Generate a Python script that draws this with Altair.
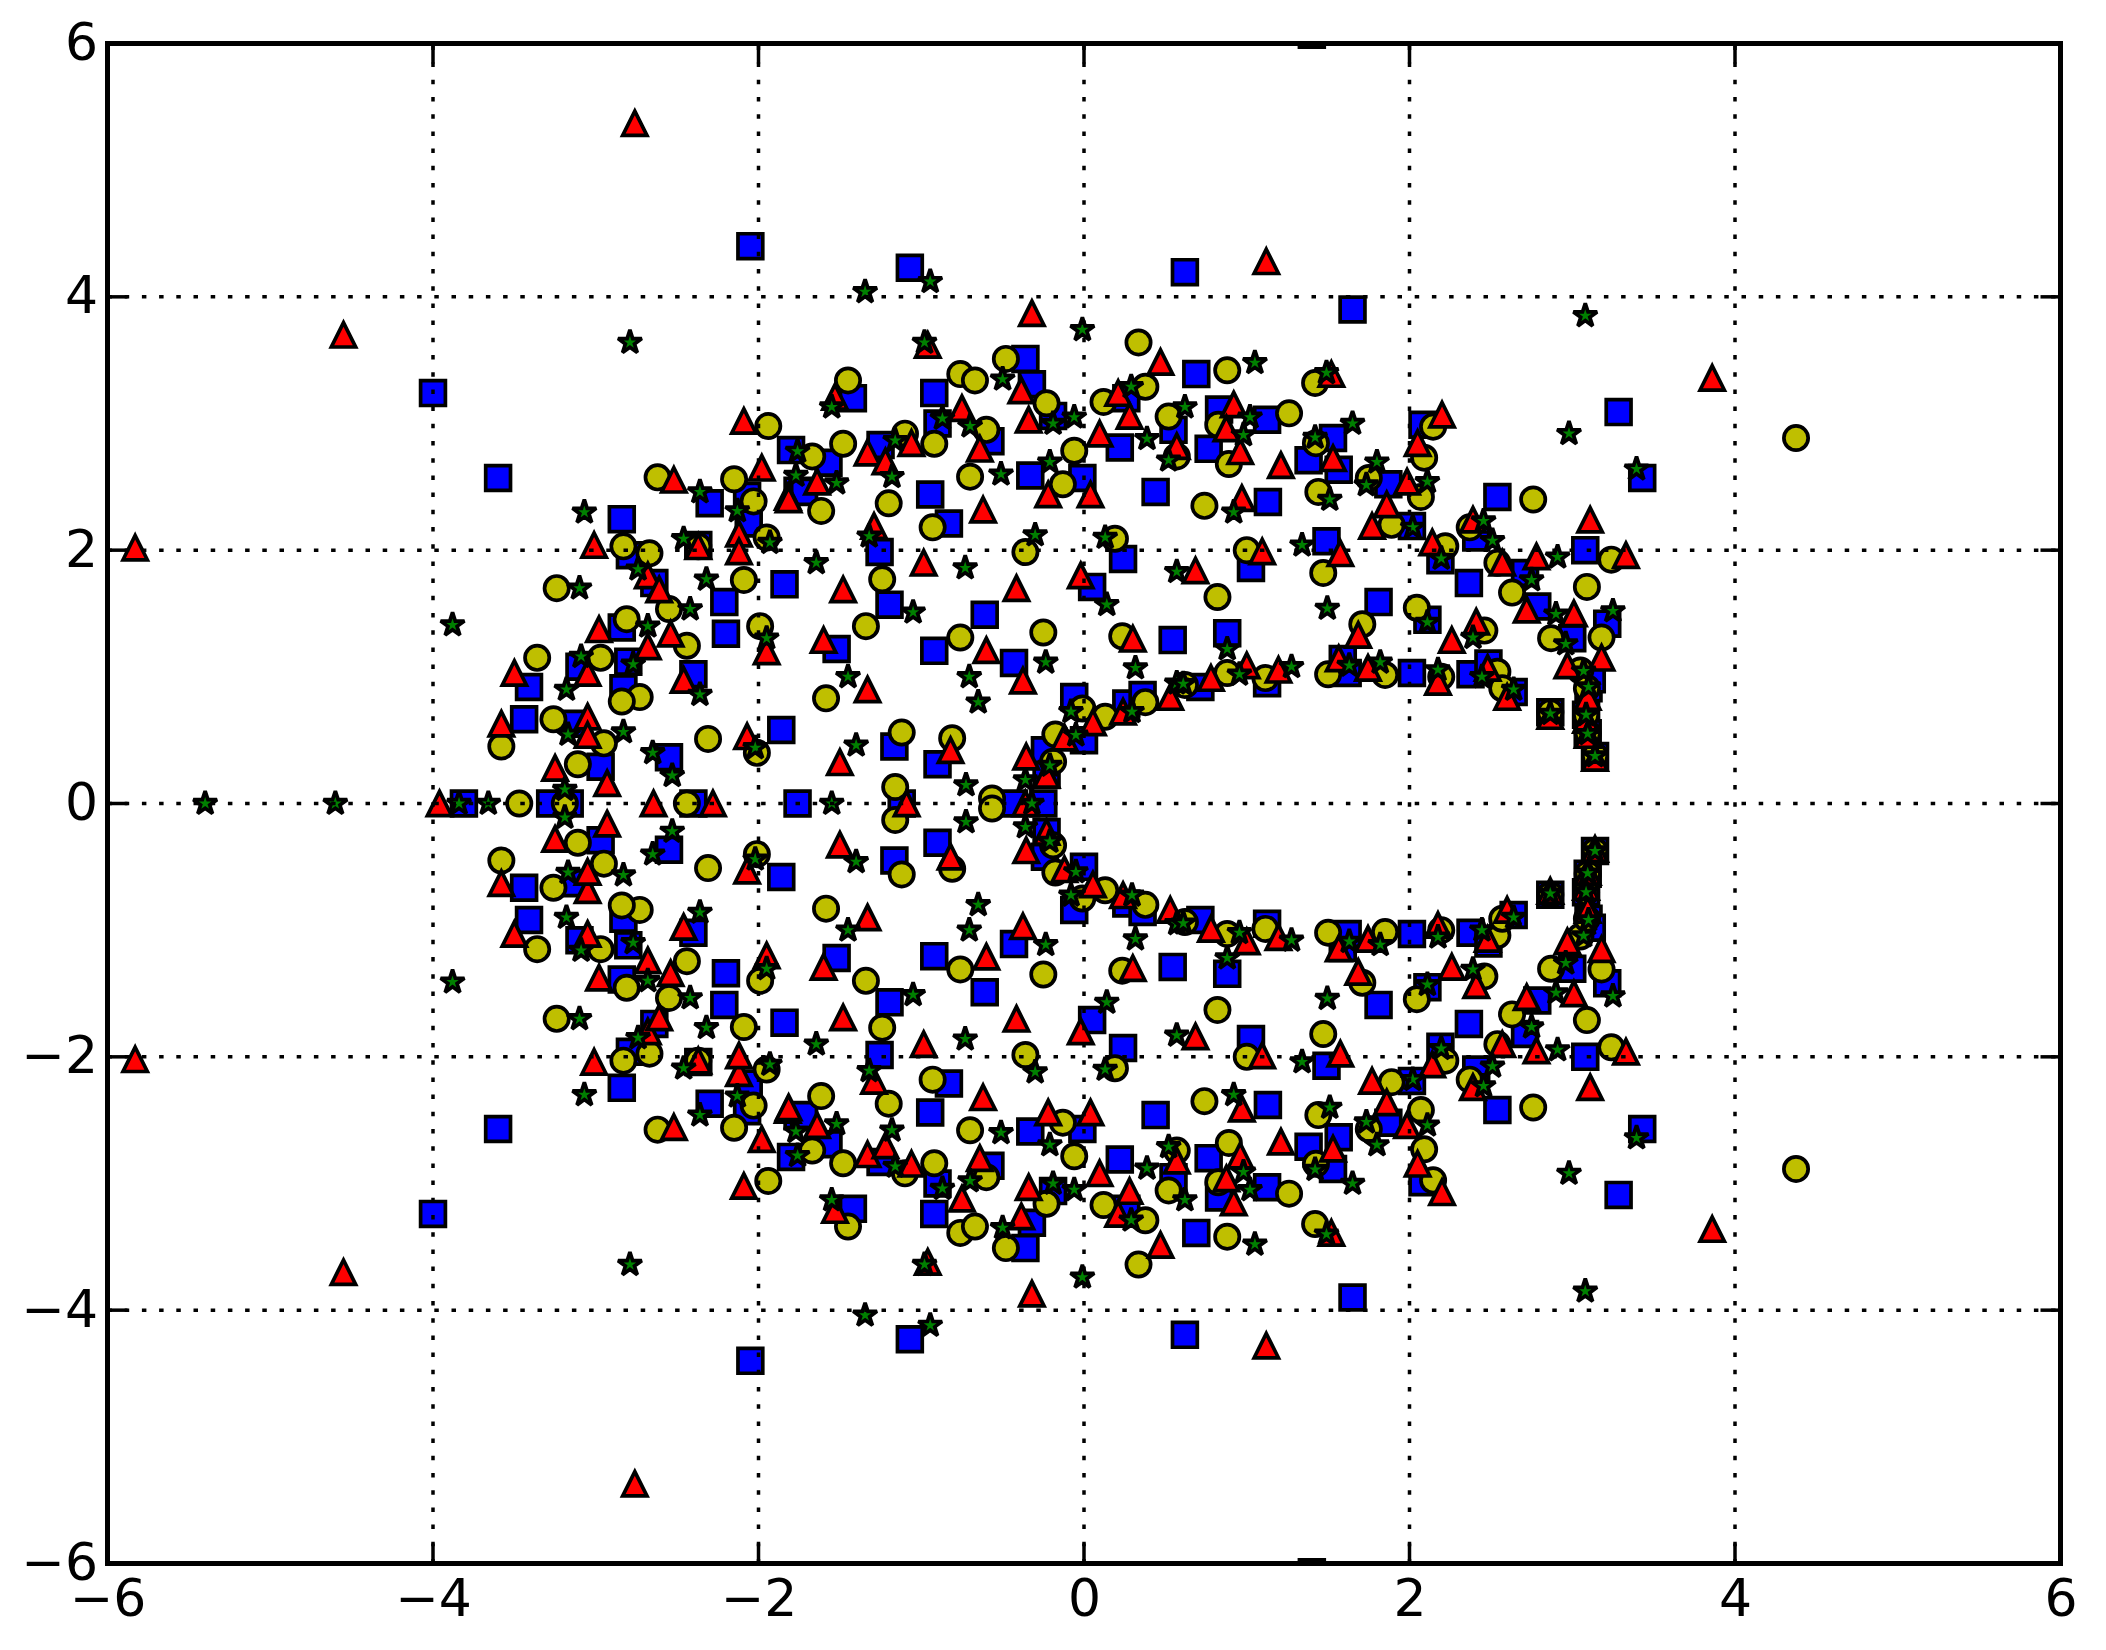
import altair as alt
import pandas as pd

ticks = [-6, -4, -2, 0, 2, 4, 6]

blue_x = [-4.0,-3.6,-2.05,-1.07,0.62,1.65,1.40,-2.84,-2.30,-2.07,-2.06,-1.80,-1.76,-2.37,-2.79,-1.84,-2.64,-2.21,-2.20,-2.84,-3.10,-2.80,-2.40,-3.41,-2.83,-3.44,-3.12,-1.86,-2.97,-2.55,
-0.36,-0.92,-0.32,-0.90,-0.19,-0.575,-1.42,-1.25,-1.57,-1.72,-0.33,-0.01,0.22,0.44,0.26,-0.945,-0.83,0.55,
-1.256,0.24,-1.195,-0.61,0.05,0.545,-1.52,-0.92,-0.43,-1.165,-0.90,-0.06,0.26,0.36,0.0,-0.24,-0.23,
0.69,0.83,1.125,0.766,1.13,1.53,1.38,1.565,2.08,1.87,2.54,2.015,1.49,2.41,
2.19,2.365,2.71,3.08,1.81,2.785,2.11,3.0,3.215,1.59,1.62,2.015,2.375,2.485,2.64,2.865,3.085,3.095,3.14,3.10,3.12,3.285,3.43,
1.026,0.88,1.125,0.715]
blue_y_top = [3.24,2.57,4.40,4.23,4.195,3.90,6.07,2.245,2.37,2.43,2.21,2.79,2.47,2.04,1.96,1.73,1.74,1.59,1.34,1.39,1.08,1.12,1.02,0.92,0.91,0.665,0.63,0.58,0.29,0.365,
3.51,3.24,3.31,3.00,3.06,2.86,3.20,2.83,2.69,2.46,2.59,2.57,2.81,2.46,3.20,2.44,2.21,2.95,
1.985,1.93,1.57,1.49,1.71,1.29,1.22,1.205,1.11,0.45,0.31,0.84,0.79,0.857,0.50,0.42,0.225,
3.39,3.11,3.03,2.80,2.38,2.885,2.71,2.635,2.99,2.52,2.42,2.19,2.07,2.10,
1.92,1.74,1.82,2.00,1.59,1.555,1.45,1.305,1.42,1.14,1.03,1.03,1.02,1.105,0.88,0.72,0.70,0.555,0.375,0.91,0.98,3.09,2.57,
1.86,1.345,0.95,0.92]
blue_y_bottom = [-3.24,-2.57,-4.40,-4.23,-4.195,-3.90,-6.07,-2.245,-2.37,-2.43,-2.21,-2.79,-2.47,-2.04,-1.96,-1.73,-1.74,-1.59,-1.34,-1.39,-1.08,-1.12,-1.02,-0.92,-0.91,-0.665,-0.63,-0.58,-0.29,-0.365,
-3.51,-3.24,-3.31,-3.00,-3.06,-2.86,-3.20,-2.83,-2.69,-2.46,-2.59,-2.57,-2.81,-2.46,-3.20,-2.44,-2.21,-2.95,
-1.985,-1.93,-1.57,-1.49,-1.71,-1.29,-1.22,-1.205,-1.11,-0.45,-0.31,-0.84,-0.79,-0.857,-0.50,-0.42,-0.225,
-3.39,-3.11,-3.03,-2.80,-2.38,-2.885,-2.71,-2.635,-2.99,-2.52,-2.42,-2.19,-2.07,-2.10,
-1.92,-1.74,-1.82,-2.00,-1.59,-1.555,-1.45,-1.305,-1.42,-1.14,-1.03,-1.03,-1.02,-1.105,-0.88,-0.72,-0.70,-0.555,-0.375,-0.91,-0.98,-3.09,-2.57,
-1.86,-1.345,-0.95,-0.92]
blue_axis_x = [-3.81,-3.28,-3.16,-2.40,-1.76,-1.12,-0.43,-0.25]

yellow_x = [-1.94,-2.62,-2.15,-2.03,-1.95,-2.83,-2.67,-2.37,-3.24,-2.09,-2.55,-2.81,-1.99,-2.44,-2.97,-3.36,-2.73,-2.84,-3.26,-2.95,-2.31,-2.01,-3.58,-3.11,
0.335,-0.48,-0.76,-0.67,0.377,-1.45,-0.23,0.12,0.52,-1.10,-0.60,-1.48,-0.92,-1.67,-0.06,-0.70,-0.13,-1.615,-1.20,-0.93,0.19,
-0.36,-1.24,-0.76,-0.25,-1.34,0.235,-1.585,-0.01,0.13,0.377,-0.176,-0.19,-1.12,-0.81,-1.16,-0.565,
0.88,1.42,1.26,0.825,1.425,2.145,2.09,1.75,0.89,0.57,2.07,2.76,1.44,0.74,1.89,2.37,2.22,1.0,
1.47,2.54,2.63,3.09,3.24,2.045,1.71,2.46,2.87,3.18,1.50,1.85,2.195,2.54,2.57,3.05,3.09,2.865,3.085,3.095,3.14,4.375,
0.82,0.88,0.62,1.115]
yellow_y_top = [2.98,2.575,2.56,2.385,2.10,2.03,1.975,2.03,1.70,1.765,1.535,1.455,1.40,1.245,1.15,1.15,0.84,0.805,0.665,0.475,0.51,0.40,0.45,0.31,
3.64,3.51,3.39,3.34,3.29,3.34,3.16,3.17,3.055,2.92,2.95,2.84,2.84,2.74,2.785,2.58,2.52,2.31,2.37,2.18,2.09,
1.985,1.77,1.31,1.35,1.40,1.32,0.83,0.75,0.685,0.80,0.545,0.33,0.56,0.515,0.13,0.04,
3.42,3.32,3.08,2.99,2.845,2.975,2.73,2.57,2.68,2.74,2.42,2.40,2.46,2.35,2.20,2.18,2.03,2.0,
1.82,1.90,1.665,1.71,1.925,1.545,1.415,1.365,1.305,1.31,1.02,1.015,1.0,1.04,0.91,1.05,0.91,0.72,0.70,0.555,0.375,2.885,
1.63,1.03,0.936,0.99]
yellow_y_bottom = [-2.98,-2.575,-2.56,-2.385,-2.10,-2.03,-1.975,-2.03,-1.70,-1.765,-1.535,-1.455,-1.40,-1.245,-1.15,-1.15,-0.84,-0.805,-0.665,-0.475,-0.51,-0.40,-0.45,-0.31,
-3.64,-3.51,-3.39,-3.34,-3.29,-3.34,-3.16,-3.17,-3.055,-2.92,-2.95,-2.84,-2.84,-2.74,-2.785,-2.58,-2.52,-2.31,-2.37,-2.18,-2.09,
-1.985,-1.77,-1.31,-1.35,-1.40,-1.32,-0.83,-0.75,-0.685,-0.80,-0.545,-0.33,-0.56,-0.515,-0.13,-0.04,
-3.42,-3.32,-3.08,-2.99,-2.845,-2.975,-2.73,-2.57,-2.68,-2.74,-2.42,-2.40,-2.46,-2.35,-2.20,-2.18,-2.03,-2.0,
-1.82,-1.90,-1.665,-1.71,-1.925,-1.545,-1.415,-1.365,-1.305,-1.31,-1.02,-1.015,-1.0,-1.04,-0.91,-1.05,-0.91,-0.72,-0.70,-0.555,-0.375,-2.885,
-1.63,-1.03,-0.936,-0.99]
yellow_axis_x = [-3.47,-3.19,-2.44]

red_x = [-2.76,-4.55,-5.83,3.86,1.12,
-2.09,-1.98,-2.52,-1.82,-2.12,-2.12,-3.01,-2.37,-2.68,-2.61,-2.98,-2.54,-2.68,-1.95,-3.05,-3.50,-2.46,-3.05,-3.58,-3.05,-2.07,-3.25,-2.93,
-0.32,-0.96,0.47,-1.53,-0.75,-0.385,0.21,-0.34,0.096,0.28,-1.33,-1.06,-1.22,-0.64,-1.64,-1.815,-0.22,0.04,-0.62,0.57,-1.29,
-0.985,-1.48,-0.415,-0.02,-1.60,-0.60,0.30,-0.375,-1.33,-0.82,-1.50,-0.355,0.055,-0.12,0.24,0.53,-0.23,
1.52,0.92,0.875,0.96,1.53,2.05,1.21,1.985,1.86,1.77,0.97,2.14,2.39,2.20,
1.575,2.57,2.78,3.11,3.33,2.72,3.01,1.685,2.26,2.41,1.565,1.745,2.97,3.18,2.175,2.48,2.60,3.095,2.865,3.085,3.095,3.14,
1.095,0.685,1.0,0.78,1.195]
red_y_top = [5.37,3.70,2.02,3.36,4.28,
3.02,2.65,2.555,2.42,2.13,1.99,2.04,2.03,1.80,1.69,1.375,1.34,1.24,1.20,1.03,1.03,0.975,0.685,0.63,0.54,0.53,0.28,0.16,
3.87,3.62,3.485,3.21,3.12,3.26,3.24,3.03,2.92,3.06,2.77,2.845,2.70,2.80,2.54,2.40,2.44,2.44,2.32,2.82,2.19,
1.90,1.69,1.70,1.80,1.29,1.21,1.30,0.97,0.90,0.42,0.325,0.37,0.64,0.52,0.725,0.84,0.225,
3.39,3.15,2.96,2.78,2.725,2.845,2.67,2.54,2.36,2.19,2.41,2.06,2.24,3.07,
1.975,1.90,1.95,2.24,1.96,1.53,1.50,1.33,1.29,1.435,1.145,1.07,1.09,1.15,0.96,1.07,0.84,0.84,0.69,0.66,0.54,0.36,
1.99,1.84,1.09,0.99,1.055]
red_y_bottom = [-5.37,-3.70,-2.02,-3.36,-4.28,
-3.02,-2.65,-2.555,-2.42,-2.13,-1.99,-2.04,-2.03,-1.80,-1.69,-1.375,-1.34,-1.24,-1.20,-1.03,-1.03,-0.975,-0.685,-0.63,-0.54,-0.53,-0.28,-0.16,
-3.87,-3.62,-3.485,-3.21,-3.12,-3.26,-3.24,-3.03,-2.92,-3.06,-2.77,-2.845,-2.70,-2.80,-2.54,-2.40,-2.44,-2.44,-2.32,-2.82,-2.19,
-1.90,-1.69,-1.70,-1.80,-1.29,-1.21,-1.30,-0.97,-0.90,-0.42,-0.325,-0.37,-0.64,-0.52,-0.725,-0.84,-0.225,
-3.39,-3.15,-2.96,-2.78,-2.725,-2.845,-2.67,-2.54,-2.36,-2.19,-2.41,-2.06,-2.24,-3.07,
-1.975,-1.90,-1.95,-2.24,-1.96,-1.53,-1.50,-1.33,-1.29,-1.435,-1.145,-1.07,-1.09,-1.15,-0.96,-1.07,-0.84,-0.84,-0.69,-0.66,-0.54,-0.36,
-1.99,-1.84,-1.09,-0.99,-1.055]
red_axis_x = [-3.96,-2.645,-2.28,-1.09,-0.36]

green_x = [-2.79,3.08,
-3.07,-2.36,-2.13,-1.77,-1.76,-2.46,-1.93,-2.74,-3.10,-2.32,-2.42,-3.88,-2.68,-1.95,-3.09,-2.77,-3.18,-2.36,-3.17,-2.83,-2.65,-2.02,-2.53,-3.19,
-1.345,-0.945,-0.01,-0.98,-0.50,0.29,-1.55,-0.87,-0.70,-0.19,-0.06,-1.16,0.387,-1.52,-1.18,-0.51,-0.21,0.52,
-0.30,0.13,-1.32,-1.645,-0.73,0.57,-1.05,0.14,-0.235,-1.45,-0.705,0.316,-0.65,-0.08,0.295,0.57,-0.05,-1.40,-0.21,-0.36,-0.725,
1.05,1.49,0.62,1.02,1.65,0.98,1.42,1.80,2.11,1.735,1.51,0.92,2.02,2.455,2.51,1.34,2.98,3.395,
2.195,2.91,2.75,1.495,2.90,3.25,2.11,2.39,2.96,1.63,1.82,2.175,2.445,2.64,3.07,3.10,2.865,3.085,3.095,3.14,
0.88,0.61,0.955,1.275]
green_y_top = [3.64,3.85,
2.30,2.46,2.31,2.59,2.78,2.09,2.06,1.85,1.70,1.77,1.535,1.41,1.40,1.305,1.16,1.10,0.90,0.86,0.545,0.565,0.40,0.44,0.22,0.11,
4.04,4.12,3.74,3.64,3.35,3.29,3.13,3.04,2.98,3.00,3.05,2.865,2.88,2.53,2.58,2.60,2.695,2.71,
2.12,2.10,2.11,1.90,1.86,1.83,1.51,1.57,1.115,1.00,1.00,1.07,0.80,0.725,0.725,0.95,0.54,0.46,0.30,0.185,0.146,
3.48,3.40,3.13,3.05,3.00,2.91,2.89,2.695,2.54,2.515,2.40,2.30,2.18,2.23,2.075,2.04,2.92,2.64,
1.935,1.945,1.765,1.54,1.495,1.52,1.43,1.31,1.26,1.09,1.115,1.055,1.00,0.90,1.045,0.92,0.71,0.70,0.55,0.375,
1.22,0.945,1.02,1.08]
green_y_bottom = [-3.64,-3.85,
-2.30,-2.46,-2.31,-2.59,-2.78,-2.09,-2.06,-1.85,-1.70,-1.77,-1.535,-1.41,-1.40,-1.305,-1.16,-1.10,-0.90,-0.86,-0.545,-0.565,-0.40,-0.44,-0.22,-0.11,
-4.04,-4.12,-3.74,-3.64,-3.35,-3.29,-3.13,-3.04,-2.98,-3.00,-3.05,-2.865,-2.88,-2.53,-2.58,-2.60,-2.695,-2.71,
-2.12,-2.10,-2.11,-1.90,-1.86,-1.83,-1.51,-1.57,-1.115,-1.00,-1.00,-1.07,-0.80,-0.725,-0.725,-0.95,-0.54,-0.46,-0.30,-0.185,-0.146,
-3.48,-3.40,-3.13,-3.05,-3.00,-2.91,-2.89,-2.695,-2.54,-2.515,-2.40,-2.30,-2.18,-2.23,-2.075,-2.04,-2.92,-2.64,
-1.935,-1.945,-1.765,-1.54,-1.495,-1.52,-1.43,-1.31,-1.26,-1.09,-1.115,-1.055,-1.00,-0.90,-1.045,-0.92,-0.71,-0.70,-0.55,-0.375,
-1.22,-0.945,-1.02,-1.08]
green_axis_x = [-5.40,-4.60,-3.84,-3.66,-1.55,-0.32]

W, H = 1953, 1520
xs = alt.Scale(domain=[-6, 6], nice=False, zero=False)
ys = alt.Scale(domain=[-6, 6], nice=False, zero=False)
FONT = "DejaVu Sans"
EDGE = 3.7
TRIANGLE = "M0,-1L1,1L-1,1Z"
STAR = "M0,-1L.2245,-.309L.951,-.309L.363,.118L.588,.809L0,.382L-.588,.809L-.363,.118L-.951,-.309L-.2245,-.309Z"

ax = alt.Axis(values=ticks, format="d", grid=False, ticks=False, domain=False, title=None,
              labelFont=FONT, labelFontSize=52, labelColor="black", labelPadding=11,
              labelAngle=0, labelOverlap=False, labelFlush=False)
ay = alt.Axis(values=ticks, format="d", grid=False, ticks=False, domain=False, title=None,
              labelFont=FONT, labelFontSize=52, labelColor="black", labelPadding=10,
              labelOverlap=False, labelFlush=False)


def series(x, top, bottom, axis_x, shape, size, color, **extra):
    df = pd.DataFrame({
        "x": x + x + axis_x,
        "y": top + bottom + [0.0] * len(axis_x),
    })
    return alt.Chart(df).mark_point(
        shape=shape, size=size, filled=True, fill=color, stroke="black",
        strokeWidth=EDGE, opacity=1, clip=True, **extra,
    ).encode(
        x=alt.X("x:Q", scale=xs, axis=ax),
        y=alt.Y("y:Q", scale=ys, axis=ay),
    )


tick_df = pd.DataFrame({"t": ticks})
base = alt.Chart(tick_df)

DASH = [4.5, 12.7]
LINE = 3.5
grid_v = base.mark_rule(color="black", strokeWidth=LINE, strokeDash=DASH).encode(
    x=alt.X("t:Q", scale=xs, axis=ax), y=alt.value(H), y2=alt.value(0))
grid_h = base.mark_rule(color="black", strokeWidth=LINE, strokeDash=DASH).encode(
    y=alt.Y("t:Q", scale=ys, axis=ay), x=alt.value(0), x2=alt.value(W))

TL = 20
tick_b = base.mark_rule(color="black", strokeWidth=LINE).encode(
    x=alt.X("t:Q", scale=xs, axis=ax), y=alt.value(H), y2=alt.value(H - TL))
tick_t = base.mark_rule(color="black", strokeWidth=LINE).encode(
    x=alt.X("t:Q", scale=xs, axis=ax), y=alt.value(0), y2=alt.value(TL))
tick_l = base.mark_rule(color="black", strokeWidth=LINE).encode(
    y=alt.Y("t:Q", scale=ys, axis=ay), x=alt.value(0), x2=alt.value(TL))
tick_r = base.mark_rule(color="black", strokeWidth=LINE).encode(
    y=alt.Y("t:Q", scale=ys, axis=ay), x=alt.value(W), x2=alt.value(W - TL))

frame = alt.Chart(pd.DataFrame({"a": [0]})).mark_rect(
    fillOpacity=0, stroke="black", strokeWidth=5
).encode(x=alt.value(0), x2=alt.value(W), y=alt.value(0), y2=alt.value(H))

chart = alt.layer(
    series(blue_x, blue_y_top, blue_y_bottom, blue_axis_x, "square", 615, "#0000ff"),
    series(yellow_x, yellow_y_top, yellow_y_bottom, yellow_axis_x, "circle", 590, "#bfbf00"),
    series(red_x, red_y_top, red_y_bottom, red_axis_x, TRIANGLE, 590, "#ff0000"),
    series(green_x, green_y_top, green_y_bottom, green_axis_x, STAR, 625, "#008000", strokeMiterLimit=3),
    grid_v, grid_h, tick_b, tick_t, tick_l, tick_r, frame,
).properties(
    width=W, height=H,
    autosize=alt.AutoSizeParams(type="none"),
    padding={"left": 99.5, "top": 35.5, "right": 30, "bottom": 80},
    background="white",
).configure_view(stroke=None)

chart.save("out.html", embed_options={"renderer": "svg", "actions": False})
